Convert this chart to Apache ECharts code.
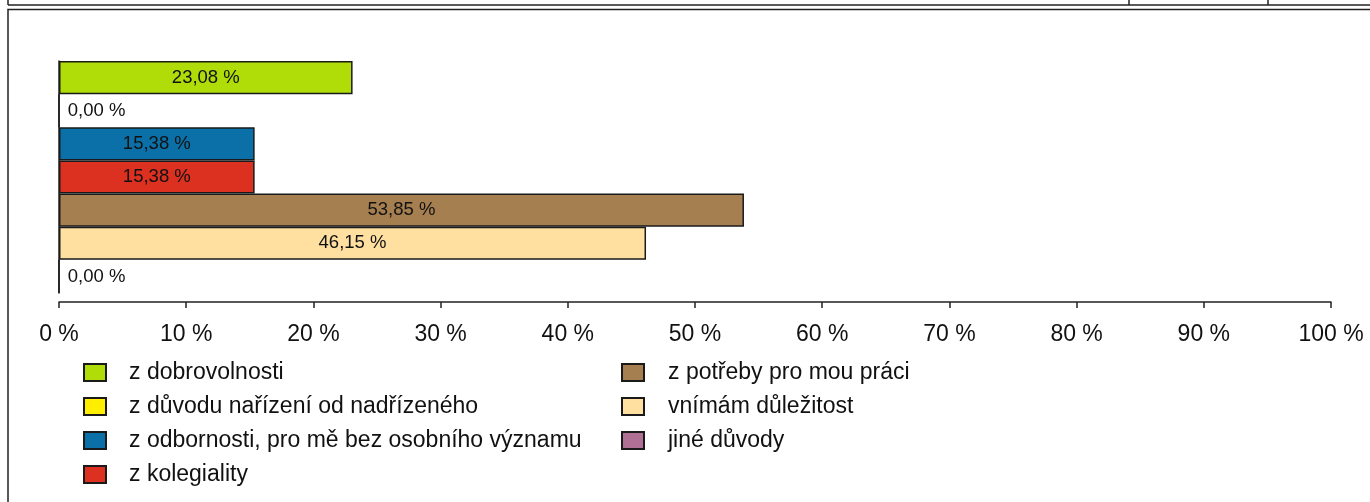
<!DOCTYPE html>
<html>
<head>
<meta charset="utf-8">
<script src="https://cdn.jsdelivr.net/npm/echarts@6/dist/echarts.min.js"></script>
<style>
html,body{margin:0;padding:0;background:#fff;}
#chart{width:1370px;height:502px;}
</style>
</head>
<body>
<div id="chart"></div>
<script>
const categories = ['z dobrovolnosti','z důvodu nařízení od nadřízeného','z odbornosti, pro mě bez osobního významu','z kolegiality','z potřeby pro mou práci','vnímám důležitost','jiné důvody'];
const values = [23.08, 0, 15.38, 15.38, 53.85, 46.15, 0];
const colors = ['#b0dc08','#ffee00','#0b70a8','#dc3020','#a67f50','#ffe0a0','#b07096'];
const xTicks = [0,10,20,30,40,50,60,70,80,90,100];

const FONT = "'Liberation Sans', Arial, sans-serif";
const fmt = v => v.toFixed(2).replace('.', ',') + ' %';

const series = categories.map((name, i) => ({
  name: name,
  type: 'bar',
  stack: 'all',
  barWidth: '100%',
  itemStyle: {color: colors[i], borderColor: '#1a1a1a', borderWidth: 1.5},
  data: categories.map((c, j) => j === i ? {
    value: values[i],
    label: {
      show: true,
      position: values[i] === 0 ? 'right' : 'inside',
      distance: 8,
      formatter: p => fmt(p.value),
      color: '#111',
      fontSize: 18.5,
      fontFamily: FONT
    }
  } : '-')
}));

const legendBase = {
  orient: 'vertical',
  top: 356,
  itemWidth: 22,
  itemHeight: 17,
  itemGap: 11,
  icon: 'rect',
  selectedMode: false,
  textStyle: {fontSize: 23, fontFamily: FONT, color: '#111', lineHeight: 23}
};

const chart = echarts.init(document.getElementById('chart'), null, {renderer: 'canvas'});
chart.setOption({
  animation: false,
  backgroundColor: '#fff',
  grid: {left: 59, right: 39, top: 61, height: 232, containLabel: false},
  xAxis: {
    type: 'value',
    min: xTicks[0],
    max: xTicks[xTicks.length - 1],
    interval: 10,
    offset: 9,
    axisLine: {show: true, lineStyle: {color: '#222', width: 1.5}},
    axisTick: {show: true, length: 6, lineStyle: {color: '#222', width: 1.5}},
    splitLine: {show: false},
    axisLabel: {margin: 21, fontSize: 23, fontFamily: FONT, color: '#111', formatter: v => v + ' %'}
  },
  yAxis: {
    type: 'category',
    data: categories,
    inverse: true,
    axisLine: {show: true, lineStyle: {color: '#222', width: 1.5}},
    axisTick: {show: false},
    axisLabel: {show: false},
    splitLine: {show: false}
  },
  legend: [
    Object.assign({}, legendBase, {left: 78, data: categories.slice(0, 4), textStyle: Object.assign({}, legendBase.textStyle, {padding: [0,0,0,18]})}),
    Object.assign({}, legendBase, {left: 616, data: categories.slice(4), textStyle: Object.assign({}, legendBase.textStyle, {padding: [0,0,0,19]})})
  ],
  graphic: [
    {type: 'rect', shape: {x: 8, y: 9.5, width: 1370, height: 500}, style: {fill: null, stroke: '#222', lineWidth: 1.5}, silent: true},
    {type: 'line', shape: {x1: 8, y1: 5, x2: 1370, y2: 5}, style: {stroke: '#222', lineWidth: 1.5}, silent: true},
    {type: 'line', shape: {x1: 8, y1: 0, x2: 8, y2: 5}, style: {stroke: '#222', lineWidth: 1.5}, silent: true},
    {type: 'line', shape: {x1: 1129, y1: 0, x2: 1129, y2: 5}, style: {stroke: '#222', lineWidth: 1.5}, silent: true},
    {type: 'line', shape: {x1: 1268, y1: 0, x2: 1268, y2: 5}, style: {stroke: '#222', lineWidth: 1.5}, silent: true}
  ],
  series: series
});
</script>
</body>
</html>
